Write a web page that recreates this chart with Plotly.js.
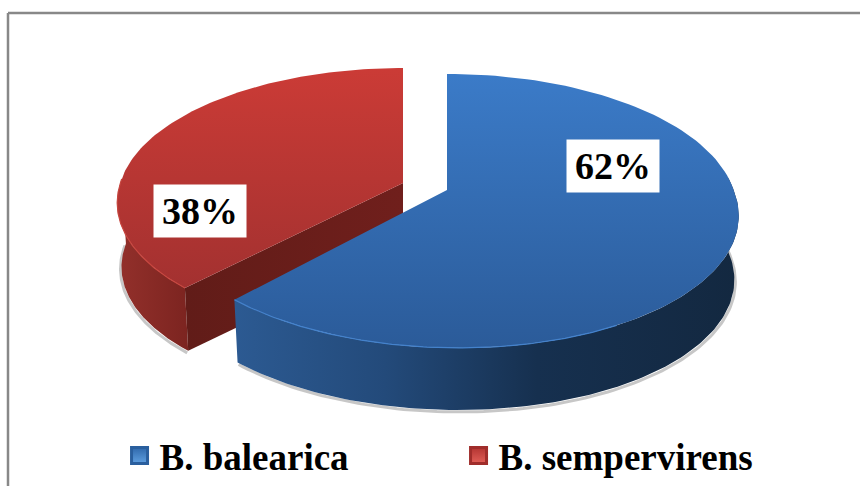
<!DOCTYPE html>
<html>
<head>
<meta charset="utf-8">
<script src="https://cdn.plot.ly/plotly-3.0.1.min.js"></script>
<style>html,body{margin:0;padding:0;background:#fff}#chart{width:860px;height:486px}</style>
</head>
<body>
<div id="chart"></div>
<script>
const categories = ["B. balearica", "B. sempervirens"];
const shares = [62, 38];
const topScales = [
  [[0, "#2b5b99"], [1, "#3b7bc8"]],
  [[0, "#a33130"], [1, "#cb3b36"]]
];
const wallScales = [
  [[0, "#2c5a92"], [0.3, "#234a7a"], [0.6, "#16304f"], [1, "#132840"]],
  [[0, "#93302b"], [1, "#7c2420"]]
];
const rimColors = ["#4482cc", "#c7463f"];
const swatchColors = ["#2f68ab", "#b33431"];
const swatchLights = ["#5f9fe0", "#e25f58"];
const swatchEdges = ["#2a5f9e", "#a02d2b"];
const apexX = [447, 403];
const apexY = [190, 183];
const labelX = [613, 200];
const labelY = [166, 211];
const radiusX = [286.6, 282.6];
const radiusY = [133.8, 130.2];
const tilt = [0.153, 0.132];
const skew = [10, -5];

const DEPTH = 64.4, SHRINK = 0.985;

function rimTop(i, f) {
  const a = f * 2 * Math.PI, u = Math.sin(a), v = -Math.cos(a), d = 1 - tilt[i] * v;
  return [apexX[i] + (radiusX[i] * u + skew[i] * Math.max(v, 0)) / d, apexY[i] + radiusY[i] * v / d];
}
function rimBottom(i, f) {
  const p = rimTop(i, f);
  return [apexX[i] + (p[0] - apexX[i]) * SHRINK, apexY[i] + (p[1] - apexY[i]) * SHRINK + DEPTH];
}
function sweep(fn, i, f0, f1) {
  const pts = [], n = 120;
  for (let j = 0; j <= n; j++) pts.push(fn(i, f0 + (f1 - f0) * j / n));
  return pts;
}
function polygon(pts, scale, type) {
  return {
    type: "scatter", mode: "lines", x: pts.map(p => p[0]), y: pts.map(p => p[1]),
    fill: "toself", line: { width: 0 }, hoverinfo: "skip", showlegend: false,
    fillgradient: { type: type, colorscale: scale }
  };
}
function stroke(pts, color, width) {
  return {
    type: "scatter", mode: "lines", x: pts.map(p => p[0]), y: pts.map(p => p[1]),
    line: { color: color, width: width }, hoverinfo: "skip", showlegend: false
  };
}

const total = shares[0] + shares[1];
const split = shares[0] / total;
const traces = [];

// red slice: sits behind the blue one
{
  const wallEnd = 0.755;
  const rimT = sweep(rimTop, 1, split, wallEnd), rimB = sweep(rimBottom, 1, split, wallEnd);
  traces.push(stroke(rimB.map(p => [p[0] - 1, p[1] + 2]), "rgba(0,0,0,0.22)", 3));
  traces.push(polygon(rimT.concat(rimB.slice().reverse()), wallScales[1], "horizontal"));
  const e0 = rimTop(1, split), e1 = rimBottom(1, split);
  const face = [[apexX[1], apexY[1]], e0, e1, [apexX[1], apexY[1] + DEPTH]];
  traces.push(polygon(face, [[0, "#611c18"], [1, "#701f1c"]], "horizontal"));
  const rimAll = sweep(rimTop, 1, split, 1);
  traces.push(polygon([[apexX[1], apexY[1]]].concat(rimAll), topScales[1], "vertical"));
  traces.push(stroke(rimT, rimColors[1], 1.2));
}
// blue slice
{
  const wallStart = 0.235;
  const rimT = sweep(rimTop, 0, wallStart, split), rimB = sweep(rimBottom, 0, wallStart, split);
  traces.push(stroke(rimB.map(p => [p[0] + 1, p[1] + 2]), "rgba(0,0,0,0.22)", 3));
  traces.push(polygon(rimT.concat(rimB.slice().reverse()), wallScales[0], "horizontal"));
  const rimAll = sweep(rimTop, 0, 0, split);
  traces.push(polygon([[apexX[0], apexY[0]]].concat(rimAll), topScales[0], "vertical"));
  traces.push(stroke(sweep(rimTop, 0, 0.42, split), rimColors[0], 1.2));
}
// legend entries
categories.forEach((name, i) => traces.push({
  type: "scatter", mode: "markers", x: [null], y: [null], name: name,
  marker: { symbol: "square", size: 16, color: swatchColors[i],
            line: { color: swatchEdges[i], width: 3 },
            gradient: { type: "vertical", color: swatchLights[i] } },
  hoverinfo: "skip"
}));

const layout = {
  width: 860, height: 486,
  margin: { l: 0, r: 0, t: 0, b: 0, autoexpand: false },
  paper_bgcolor: "#fff", plot_bgcolor: "#fff",
  xaxis: { range: [0, 860], visible: false, fixedrange: true },
  yaxis: { range: [486, 0], visible: false, fixedrange: true },
  shapes: [
    { type: "line", x0: 8, x1: 860, y0: 13, y1: 13, line: { color: "#888888", width: 2.5 } },
    { type: "line", x0: 8, x1: 8, y0: 13, y1: 486, line: { color: "#888888", width: 2.5 } }
  ],
  annotations: shares.map((v, i) => ({
    x: labelX[i], y: labelY[i], xref: "x", yref: "y",
    text: "<b>" + v + "%</b>", showarrow: false,
    width: 92, height: 52, bgcolor: "#ffffff", borderpad: 0,
    font: { family: "Liberation Serif", size: 38, color: "#000" }
  })),
  legend: {
    orientation: "h", x: 0.139, y: 0.062, xanchor: "left", yanchor: "middle",
    itemwidth: 30, entrywidth: 294, entrywidthmode: "pixels", tracegroupgap: 0,
    bgcolor: "rgba(0,0,0,0)",
    font: { family: "Liberation Serif", size: 37, color: "#000", weight: "bold" }
  },
  showlegend: true
};
Plotly.newPlot("chart", traces, layout, { displayModeBar: false, staticPlot: true });
</script>
</body>
</html>
